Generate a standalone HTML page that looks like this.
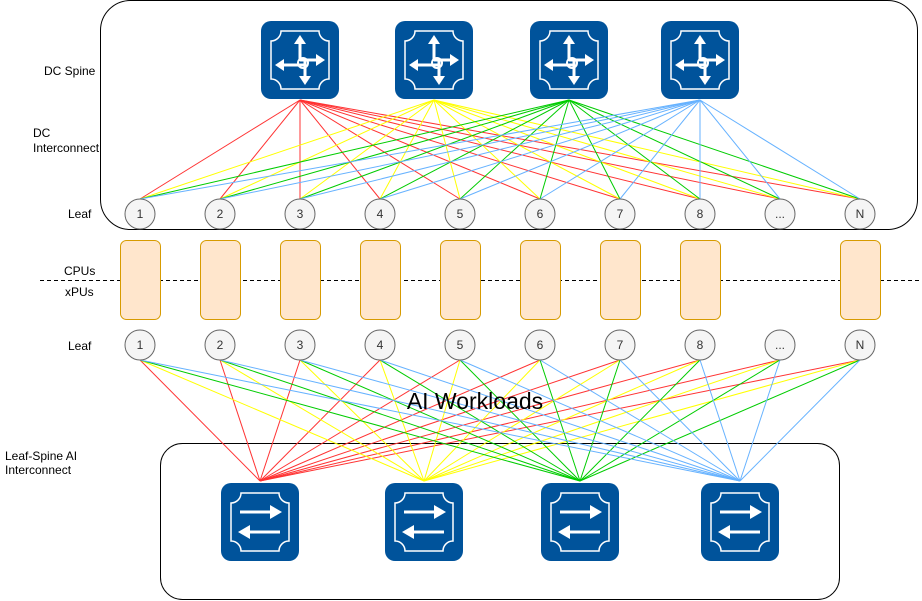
<!DOCTYPE html>
<html><head><meta charset="utf-8"><style>
body{margin:0;width:922px;height:601px;overflow:hidden;background:#fff;font-family:"Liberation Sans",sans-serif}
svg{position:absolute;left:0;top:0}
</style></head><body>
<svg id="s" width="922" height="601" viewBox="0 0 922 601" xmlns="http://www.w3.org/2000/svg" font-family="Liberation Sans, sans-serif">
<defs>
<g id="frame">
<rect x="0" y="0" width="78" height="78" rx="10" fill="#00539b"/>
<path d="M20 10 H58 A10 10 0 0 0 68 20 V58 A10 10 0 0 0 58 68 H20 A10 10 0 0 0 10 58 V20 A10 10 0 0 0 20 10 Z" fill="none" stroke="#fff" stroke-width="1.5"/>
</g>
<g id="spine">
<use href="#frame"/>
<g stroke="#fff" stroke-width="3" fill="#fff">
<line x1="39" y1="40" x2="39" y2="20"/><polygon points="33,23 39,14 45,23" stroke="none"/>
<line x1="39" y1="39" x2="58" y2="39"/><polygon points="55,33 64,39 55,45" stroke="none"/>
<line x1="44" y1="44" x2="20" y2="44"/><polygon points="23,38 14,44 23,50" stroke="none"/>
<line x1="44" y1="39" x2="44" y2="58"/><polygon points="38,55 44,64 50,55" stroke="none"/>
</g>
<circle cx="42" cy="42" r="5" fill="none" stroke="#fff" stroke-width="2"/>
</g>
<g id="sw">
<use href="#frame"/>
<g stroke="#fff" stroke-width="3" fill="#fff">
<line x1="19" y1="29" x2="52" y2="29"/><polygon points="49,22 61,29 49,36" stroke="none"/>
<line x1="59" y1="49" x2="26" y2="49"/><polygon points="29,42 17,49 29,56" stroke="none"/>
</g>
</g>
</defs>
<rect x="100.5" y="0.5" width="817" height="229" rx="30" fill="none" stroke="#000"/>
<rect x="160.5" y="443.5" width="679" height="156" rx="22" fill="none" stroke="#000"/>
<g id="lines" stroke-width="1"></g>
<line x1="40" y1="280.5" x2="922" y2="280.5" stroke="#000" stroke-dasharray="4,3"/>
<g id="nodes"></g>
<use href="#spine" x="261" y="21"/><use href="#spine" x="395" y="21"/><use href="#spine" x="530" y="21"/><use href="#spine" x="661" y="21"/>
<use href="#sw" x="221" y="483"/><use href="#sw" x="385" y="483"/><use href="#sw" x="541" y="483"/><use href="#sw" x="701" y="483"/>
<g font-size="12" fill="#000">
<text x="44" y="75">DC Spine</text>
<text x="33" y="137">DC</text><text x="33" y="152">Interconnect</text>
<text x="68" y="218">Leaf</text>
<text x="64" y="275">CPUs</text>
<text x="65" y="296">xPUs</text>
<text x="68" y="350">Leaf</text>
<text x="5" y="460">Leaf-Spine AI</text><text x="5" y="474">Interconnect</text>
</g>
<text x="475" y="409" font-size="23" text-anchor="middle" fill="#000">AI Workloads</text>
</svg>
<script>
var ns="http://www.w3.org/2000/svg";
function el(t,a,p){var e=document.createElementNS(ns,t);for(var k in a)e.setAttribute(k,a[k]);p.appendChild(e);return e;}
var L=document.getElementById('lines'),N=document.getElementById('nodes');
var xs=[140,220,300,380,460,540,620,700,780,860],labs=['1','2','3','4','5','6','7','8','...','N'];
var cols=['#ff3333','#ffff00','#00cc00','#66b2ff'];
var sp=[300,434,569,700],sw=[260,424,580,740];
for(var s=0;s<4;s++)for(var i=0;i<10;i++){
el('line',{x1:sp[s],y1:100,x2:xs[i],y2:199,stroke:cols[s]},L);
el('line',{x1:sw[s],y1:481,x2:xs[i],y2:360,stroke:cols[s]},L);}
for(var i=0;i<10;i++){
[214,345].forEach(function(y){
el('circle',{cx:xs[i],cy:y,r:15,fill:'#f5f5f5',stroke:'#666'},N);
var t=el('text',{x:xs[i],y:y+4,'text-anchor':'middle','font-size':'12',fill:'#333'},N);t.textContent=labs[i];});
if(i!=8)el('rect',{x:xs[i]-20+0.5,y:240.5,width:40,height:79,rx:6,fill:'#ffe6cc',stroke:'#d79b00'},N);}
</script>
</body></html>
